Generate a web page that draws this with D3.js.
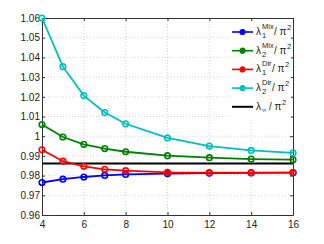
<!DOCTYPE html>
<html>
<head>
<meta charset="utf-8">
<script src="https://cdn.jsdelivr.net/npm/d3@7"></script>
<style>
  body { margin: 0; background: #fff; }
  text { font-family: "Liberation Sans", Arial, sans-serif; }
</style>
</head>
<body>
<div id="chart"></div>
<script>
// data
const nValues = [4, 5, 6, 7, 8, 10, 12, 14, 16];
const mix1 = [0.9765, 0.9782, 0.9793, 0.9801, 0.9806, 0.9810, 0.9813, 0.9814, 0.9815];
const mix2 = [1.0059, 0.9996, 0.9959, 0.9937, 0.9921, 0.9901, 0.9891, 0.9884, 0.9881];
const dir1 = [0.9931, 0.9873, 0.9847, 0.9832, 0.9825, 0.9816, 0.9815, 0.9815, 0.9815];
const dir2 = [1.0600, 1.0353, 1.0206, 1.0120, 1.0063, 0.9991, 0.9950, 0.9928, 0.9915];
const lambdaInf = 0.9861;
const xTicks = [4, 6, 8, 10, 12, 14, 16];
const yTicks = [0.96, 0.97, 0.98, 0.99, 1, 1.01, 1.02, 1.03, 1.04, 1.05, 1.06];

const series = [
    { sup: "Mix", sub: "1", color: "#0000ff", values: mix1 },
    { sup: "Mix", sub: "2", color: "#008000", values: mix2 },
    { sup: "Dir", sub: "1", color: "#ff0000", values: dir1 },
    { sup: "Dir", sub: "2", color: "#00bfbf", values: dir2 }
];

const margin = { top: 18, right: 31, bottom: 29, left: 42 },
    width = 324 - margin.left - margin.right,
    height = 244 - margin.top - margin.bottom;

const svg = d3.select("#chart")
    .append("svg")
    .attr("width", 324)
    .attr("height", 244)
    .append("g")
    .attr("transform", "translate(" + margin.left + "," + margin.top + ")");

const x = d3.scaleLinear().domain([4, 16]).range([0, width]);
const y = d3.scaleLinear().domain([0.96, 1.06]).range([height, 0]);

// grid
svg.append("g").selectAll("line")
    .data(xTicks.slice(1, -1))
    .enter().append("line")
    .attr("x1", d => x(d)).attr("x2", d => x(d))
    .attr("y1", 0).attr("y2", height)
    .attr("stroke", "#c8c8c8").attr("stroke-width", 0.8)
    .attr("stroke-dasharray", "1,2");
svg.append("g").selectAll("line")
    .data(yTicks.slice(1, -1))
    .enter().append("line")
    .attr("x1", 0).attr("x2", width)
    .attr("y1", d => y(d)).attr("y2", d => y(d))
    .attr("stroke", "#c8c8c8").attr("stroke-width", 0.8)
    .attr("stroke-dasharray", "1,2");

// axes with inward ticks on all sides
const fmtY = d => d3.format("")(+d.toFixed(2));
function styleAxis(g) {
    g.select(".domain").attr("stroke", "#333");
    g.selectAll(".tick line").attr("stroke", "#333");
    g.selectAll(".tick text").attr("fill", "#222").style("font-size", "10px");
}
svg.append("g")
    .attr("transform", "translate(0," + height + ")")
    .call(d3.axisBottom(x).tickValues(xTicks).tickSize(-3).tickSizeOuter(0).tickPadding(6))
    .call(styleAxis);
svg.append("g")
    .call(d3.axisLeft(y).tickValues(yTicks).tickFormat(fmtY).tickSize(-3).tickSizeOuter(0).tickPadding(2))
    .call(styleAxis);
svg.append("g")
    .call(d3.axisTop(x).tickValues(xTicks).tickSize(-3).tickSizeOuter(0).tickFormat(""))
    .call(styleAxis);
svg.append("g")
    .attr("transform", "translate(" + width + ",0)")
    .call(d3.axisRight(y).tickValues(yTicks).tickSize(-3).tickSizeOuter(0).tickFormat(""))
    .call(styleAxis);

// clip
svg.append("defs").append("clipPath").attr("id", "clip")
    .append("rect").attr("x", -4).attr("y", -4).attr("width", width + 8).attr("height", height + 8);
const plot = svg.append("g").attr("clip-path", "url(#clip)");

// limit line
plot.append("line")
    .attr("x1", 0).attr("x2", width)
    .attr("y1", y(lambdaInf)).attr("y2", y(lambdaInf))
    .attr("stroke", "#000").attr("stroke-width", 2);

const line = d3.line().x((d, i) => x(nValues[i])).y(d => y(d));

series.forEach(s => {
    plot.append("path")
        .datum(s.values)
        .attr("d", line)
        .attr("fill", "none")
        .attr("stroke", s.color)
        .attr("stroke-width", 1.8);
    plot.selectAll(null)
        .data(s.values)
        .enter().append("circle")
        .attr("cx", (d, i) => x(nValues[i]))
        .attr("cy", d => y(d))
        .attr("r", 2.8)
        .attr("fill", "none")
        .attr("stroke", s.color)
        .attr("stroke-width", 1.6);
});

// legend
const legend = svg.append("g").attr("transform", "translate(" + (width - 64) + ",3)");
legend.append("rect")
    .attr("x", 0).attr("y", 0).attr("width", 62).attr("height", 98)
    .attr("fill", "#fff");

const rows = series.map(s => ({ sup: s.sup, sub: s.sub, color: s.color, marker: true }))
    .concat([{ sup: "", sub: "\u221e", color: "#000", marker: false }]);

rows.forEach((r, i) => {
    const yy = 11 + i * 18.7;
    const g = legend.append("g").attr("transform", "translate(0," + yy + ")");
    g.append("line").attr("x1", 3).attr("x2", 24).attr("y1", 0).attr("y2", 0)
        .attr("stroke", r.color).attr("stroke-width", r.marker ? 1.6 : 2);
    if (r.marker) {
        g.append("circle").attr("cx", 13.5).attr("cy", 0).attr("r", 2.5)
            .attr("fill", r.color).attr("stroke", r.color).attr("stroke-width", 1.2);
    }
    const tx = 27;
    g.append("text").attr("x", tx).attr("y", 3).style("font-size", "10px").attr("fill", "#222").text("\u03bb");
    g.append("text").attr("x", tx + 6).attr("y", -3).style("font-size", "7.5px").attr("fill", "#222").text(r.sup);
    g.append("text").attr("x", tx + 6).attr("y", r.marker ? 6 : 5).style("font-size", r.marker ? "7.5px" : "6px").attr("fill", "#222").text(r.sub);
    const restX = r.marker ? tx + 6 + (r.sup === "Mix" ? 12 : 10) : tx + 13;
    g.append("text").attr("x", restX).attr("y", 3).style("font-size", "10px").attr("fill", "#222").text("/ \u03c0");
    g.append("text").attr("x", restX + 13).attr("y", -2).style("font-size", "7.5px").attr("fill", "#222").text("2");
});
</script>
</body>
</html>
